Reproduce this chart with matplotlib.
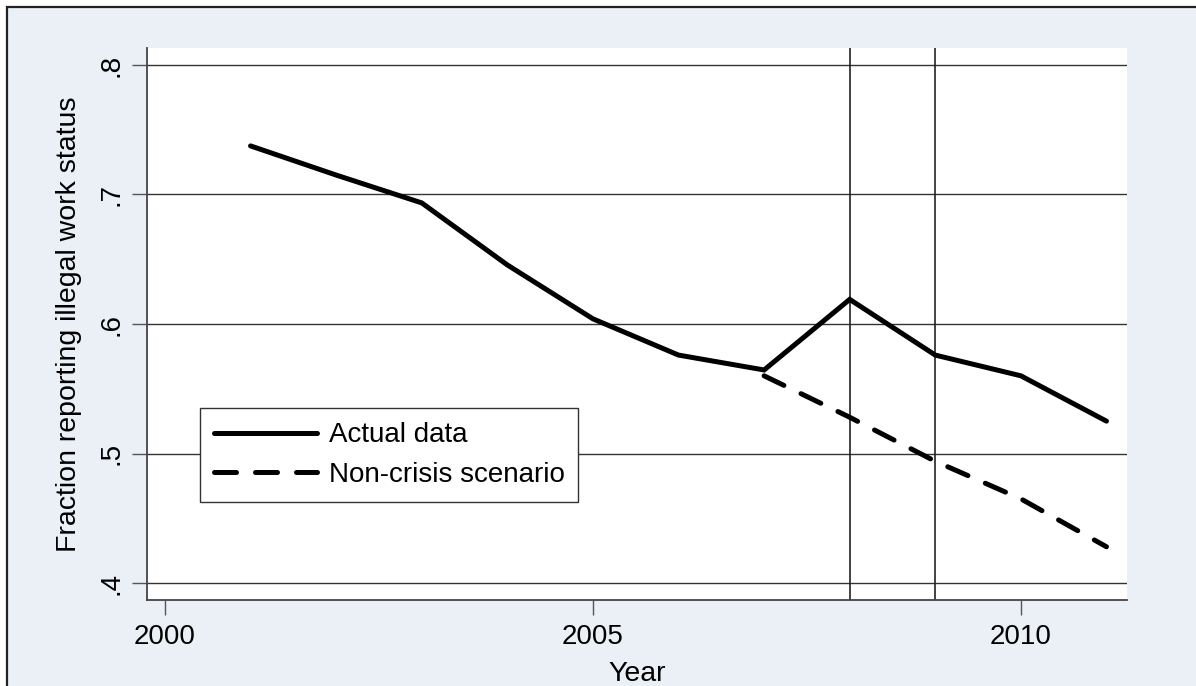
import matplotlib
matplotlib.use("Agg")
import matplotlib.pyplot as plt
from matplotlib.patches import Rectangle

years_actual = [2001, 2002, 2003, 2004, 2005, 2006, 2007, 2008, 2009, 2010, 2011]
actual = [0.7375, 0.715, 0.6935, 0.6456, 0.604, 0.576, 0.5645, 0.619, 0.576, 0.560, 0.525]
years_nc = [2007, 2008, 2009, 2010, 2011]
noncrisis = [0.560, 0.528, 0.494, 0.465, 0.428]
vlines = [2008, 2009]
yticks = [0.4, 0.5, 0.6, 0.7, 0.8]
yticklabels = [".4", ".5", ".6", ".7", ".8"]
xticks = [2000, 2005, 2010]

plt.rcParams['font.family'] = ['Liberation Sans', 'DejaVu Sans']
W, H = 1196, 686
fig = plt.figure(figsize=(W / 100, H / 100), dpi=100, facecolor='white')
bg = '#EAF0F5'
fig.patches.append(Rectangle((7 / W, -0.1), 1.2, (H - 7) / H + 0.1, transform=fig.transFigure,
                             facecolor=bg, edgecolor='#222222', linewidth=1.6, zorder=-10))

ax = fig.add_axes([147 / W, 1 - 600 / H, (1127 - 147) / W, (600 - 48) / H])
ax.set_facecolor('white')
ax.set_xlim(1999.79, 2011.24)
ax.set_ylim(0.3869, 0.8131)

for y in yticks:
    ax.axhline(y, color='#333333', linewidth=1.0, zorder=1)
for x in vlines:
    ax.axvline(x, color='#222222', linewidth=1.2, zorder=1)

ax.plot(years_actual, actual, color='black', linewidth=3.6, solid_capstyle='round',
        solid_joinstyle='miter', label='Actual data', zorder=3)
ax.plot(years_nc, noncrisis, color='black', linewidth=3.6, dashes=(4.4, 3.8),
        dash_capstyle='round', label='Non-crisis scenario', zorder=3)

for s in ['top', 'right']:
    ax.spines[s].set_visible(False)
for s in ['left', 'bottom']:
    ax.spines[s].set_color('#444444')
    ax.spines[s].set_linewidth(1.3)

ax.set_yticks(yticks)
ax.set_yticklabels(yticklabels, rotation=90, va='center')
ax.set_xticks(xticks)
ax.tick_params(axis='both', labelsize=20, length=11, width=1.0, color='#555555', pad=6)
ax.tick_params(axis='y', pad=5)

ax.set_ylabel('Fraction reporting illegal work status', fontsize=20.5, labelpad=12)
ax.set_xlabel('Year', fontsize=20.5, labelpad=8)

leg = ax.legend(loc='lower left', bbox_to_anchor=((200 - 147) / 980, (600 - 502) / 552),
                fontsize=20, frameon=True, fancybox=False, handlelength=3.7,
                borderpad=0.5, labelspacing=0.5, handletextpad=0.43, borderaxespad=0)
leg.get_frame().set_edgecolor('#333333')
leg.get_frame().set_linewidth(1.0)
leg.get_frame().set_alpha(1)

fig.savefig('out.png', dpi=100, facecolor='white')
